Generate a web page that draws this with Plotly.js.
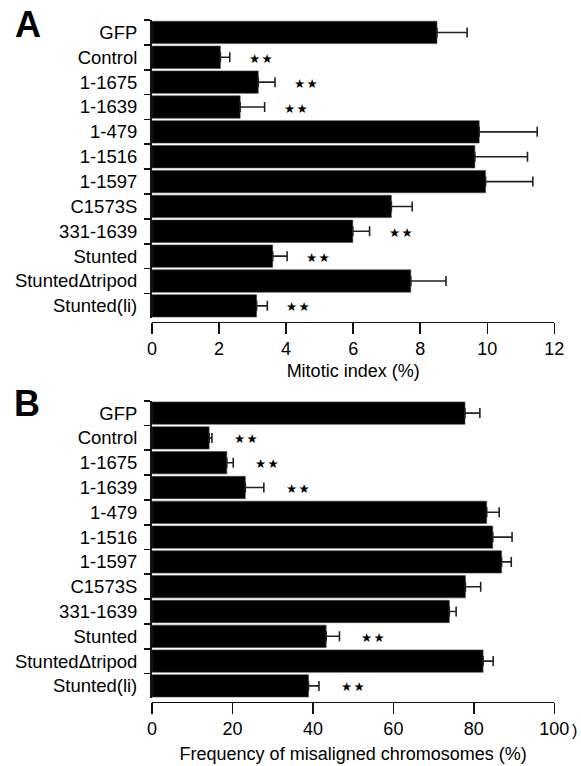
<!DOCTYPE html>
<html>
<head>
<meta charset="utf-8">
<script src="https://cdn.plot.ly/plotly-3.0.1.min.js"></script>
<style>html,body{margin:0;padding:0;background:#fff;}#chart{width:581px;height:766px;}</style>
</head>
<body>
<div id="chart"></div>
<script>
const categories = ['GFP','Control','1-1675','1-1639','1-479','1-1516','1-1597','C1573S','331-1639','Stunted','StuntedΔtripod','Stunted(li)'];
const mitotic = [8.50, 2.04, 3.17, 2.63, 9.76, 9.63, 9.95, 7.14, 5.99, 3.60, 7.72, 3.12];
const mitoticErr = [0.90, 0.28, 0.50, 0.73, 1.73, 1.57, 1.41, 0.62, 0.50, 0.43, 1.05, 0.32];
const mitoticSig = [false, true, true, true, false, false, false, false, true, true, false, true];
const misaligned = [77.8, 14.2, 18.6, 23.2, 83.2, 84.7, 86.9, 77.9, 73.9, 43.3, 82.3, 38.9];
const misalignedErr = [3.7, 0.7, 1.6, 4.6, 3.1, 4.8, 2.4, 3.8, 1.7, 3.3, 2.5, 2.6];
const misalignedSig = [false, true, true, true, false, false, false, false, false, true, false, true];
const mitoticTicks = [0, 2, 4, 6, 8, 10, 12];
const misalignedTicks = [0, 20, 40, 60, 80, 100];

const W = 581, H = 766;
const px = v => v / W;
const py = v => 1 - v / H;
const FONT = 'Liberation Sans, Arial, Helvetica, sans-serif';

function barTrace(vals, errs, xa, ya) {
  return {
    type: 'bar', orientation: 'h', x: vals, y: categories, xaxis: xa, yaxis: ya,
    marker: {color: '#000', line: {width: 0.6, color: '#444'}},
    error_x: {type: 'data', array: errs, symmetric: false, arrayminus: errs.map(() => 0),
              color: '#222', thickness: 1.6, width: 5},
    hoverinfo: 'none', showlegend: false
  };
}

const annotations = [];
function addStars(vals, errs, sig, xref, yref, shift) {
  vals.forEach((v, i) => {
    if (!sig[i]) return;
    annotations.push({
      x: v + errs[i], y: categories[i], xref: xref, yref: yref,
      xanchor: 'left', yanchor: 'middle', xshift: shift, yshift: -1,
      text: '★\u200A★', showarrow: false,
      font: {family: 'DejaVu Sans', size: 12.5, color: '#000'}
    });
  });
}
addStars(mitotic, mitoticErr, mitoticSig, 'x', 'y', 17);
addStars(misaligned, misalignedErr, misalignedSig, 'x2', 'y2', 20);

annotations.push({x: px(28), y: py(25), xref: 'paper', yref: 'paper', text: 'A', showarrow: false,
  xanchor: 'center', yanchor: 'middle', font: {family: FONT, size: 36, weight: 'bold', color: '#000'}});
annotations.push({x: px(27), y: py(403), xref: 'paper', yref: 'paper', text: 'B', showarrow: false,
  xanchor: 'center', yanchor: 'middle', font: {family: FONT, size: 36, weight: 'bold', color: '#000'}});
annotations.push({x: px(574), y: py(730), xref: 'paper', yref: 'paper', text: ')', showarrow: false,
  xanchor: 'center', yanchor: 'middle', font: {family: FONT, size: 16, color: '#000'}});

function xAxis(pos, range, ticks, title, standoff) {
  return {
    domain: [px(152), px(554.3)], anchor: 'free', position: pos, range: range,
    tickmode: 'array', tickvals: ticks, ticktext: ticks.map(String),
    ticks: 'outside', ticklen: 11, tickwidth: 1.5, tickcolor: '#111',
    showline: true, linewidth: 1.6, linecolor: '#111',
    showgrid: false, zeroline: false, fixedrange: true, ticklabelstandoff: -1,
    tickfont: {family: FONT, size: 18, color: '#000'},
    title: {text: title, font: {family: FONT, size: 18, color: '#000'}, standoff: standoff}
  };
}
function yAxis(domain, xa) {
  return {
    domain: domain, anchor: xa, type: 'category', categoryorder: 'array', categoryarray: categories,
    range: [11.5, -0.5], tickson: 'boundaries', ticks: 'outside', ticklen: 6, tickwidth: 1.6,
    tickcolor: '#111', showline: true, linewidth: 2, linecolor: '#111',
    showgrid: false, zeroline: false, fixedrange: true, ticklabelstandoff: 9,
    tickfont: {family: FONT, size: 18.5, color: '#000'}
  };
}

const layout = {
  width: W, height: H, margin: {l: 0, r: 0, t: 0, b: 0},
  paper_bgcolor: '#fff', plot_bgcolor: '#fff', bargap: 0.1,
  xaxis: xAxis(py(321.5), [0, 12], mitoticTicks, 'Mitotic index (%)', 6),
  yaxis: yAxis([py(318.3), py(20)], 'x'),
  xaxis2: xAxis(py(701.7), [0, 100], misalignedTicks, 'Frequency of misaligned chromosomes (%)', 9),
  yaxis2: yAxis([py(698.3), py(400.7)], 'x2'),
  annotations: annotations, showlegend: false
};

Plotly.newPlot('chart', [
  barTrace(mitotic, mitoticErr, 'x', 'y'),
  barTrace(misaligned, misalignedErr, 'x2', 'y2')
], layout, {displayModeBar: false, staticPlot: true});
</script>
</body>
</html>
